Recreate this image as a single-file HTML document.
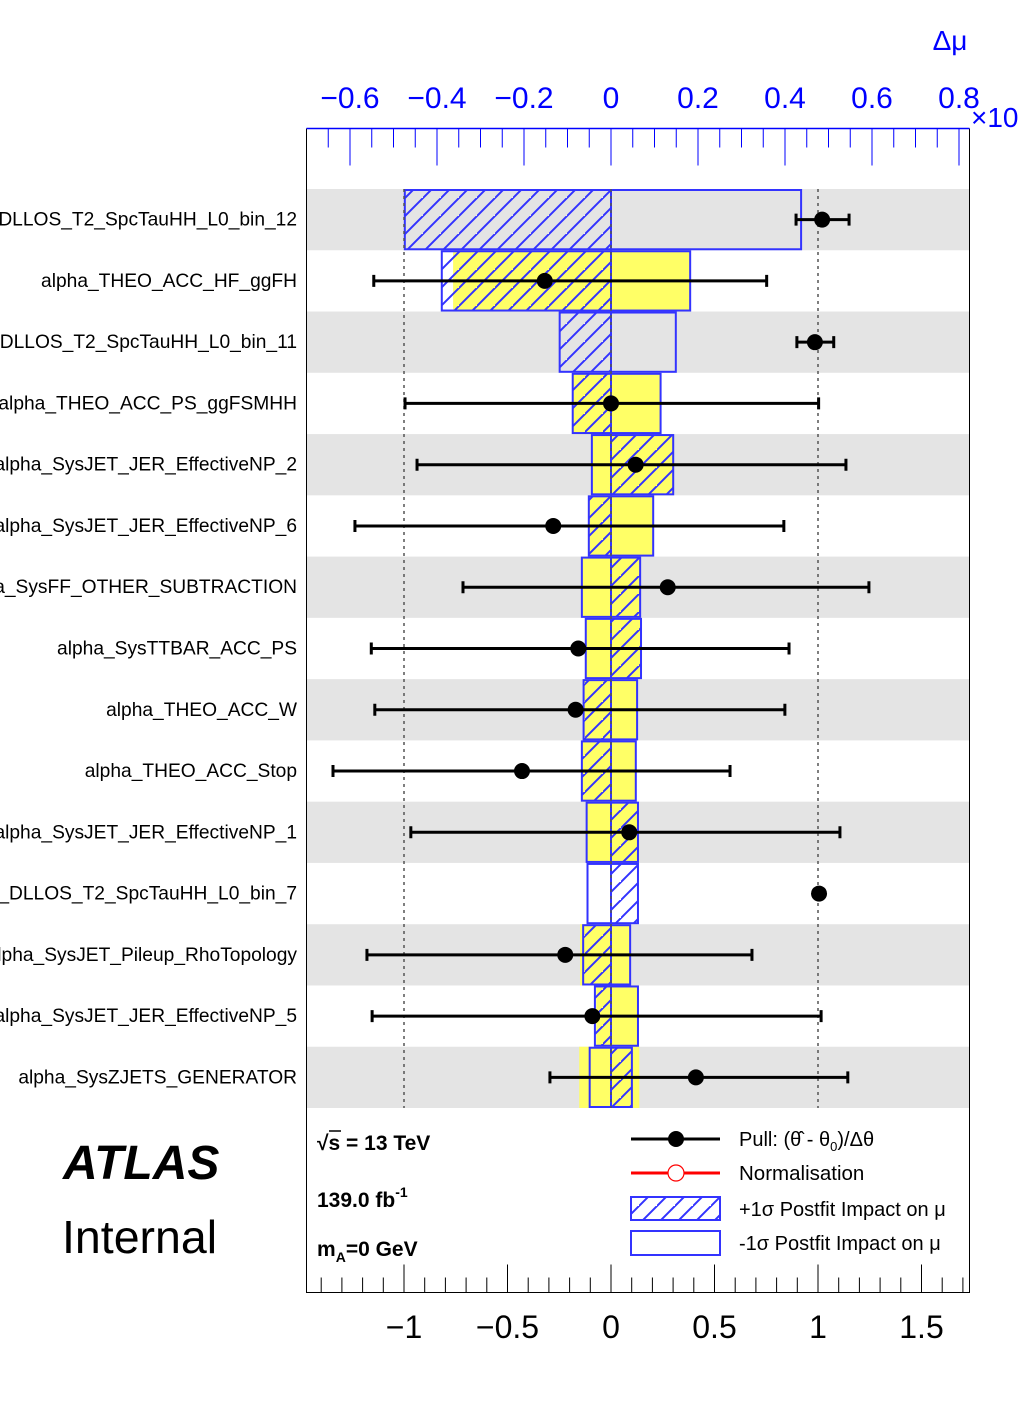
<!DOCTYPE html>
<html><head><meta charset="utf-8"><style>
html,body{margin:0;padding:0;background:#fff;}
svg{display:block;font-family:"Liberation Sans",sans-serif;}
</style></head><body>
<svg id="chart" width="1020" height="1420" viewBox="0 0 1020 1420" xmlns="http://www.w3.org/2000/svg">
<defs>
<pattern id="hatch" patternUnits="userSpaceOnUse" width="18" height="18" patternTransform="translate(405,0)">
<path d="M-2,20 L20,-2 M-20,20 L2,-2 M16,38 L38,16" stroke="#3333ff" stroke-width="2"/>
</pattern>
<clipPath id="labclip"><rect x="0" y="0" width="306" height="1420"/></clipPath>
</defs>
<g id="bg"></g>
<g id="marks"></g>
<g id="axes"></g>
<g id="labels" clip-path="url(#labclip)"></g>

<text x="950" y="50" font-size="28" fill="#0000ff" text-anchor="middle">Δμ</text>
<text x="971" y="127" font-size="28" fill="#0000ff">×10</text>

<text x="63" y="1179" font-size="48" font-weight="bold" font-style="italic">ATLAS</text>
<text x="62" y="1253" font-size="46.5">Internal</text>

<text x="317" y="1150" font-size="21" font-weight="bold">√s = 13 TeV</text>
<line x1="329" y1="1131" x2="341" y2="1131" stroke="#000" stroke-width="1.5"/>
<text x="317" y="1207" font-size="21" font-weight="bold">139.0 fb<tspan dy="-10" font-size="14">-1</tspan></text>
<text x="317" y="1256" font-size="21" font-weight="bold">m<tspan dy="6" font-size="14">A</tspan><tspan dy="-6">=0 GeV</tspan></text>

<g>
<g>
<line x1="631" y1="1139" x2="720" y2="1139" stroke="#000" stroke-width="3"/>
<circle cx="676" cy="1139" r="8" fill="#000"/>
<text x="739" y="1146" font-size="20">Pull: (θ̂ - θ<tspan dy="5" font-size="13">0</tspan><tspan dy="-5">)/Δθ</tspan></text>
</g>
<g>
<line x1="631" y1="1173" x2="720" y2="1173" stroke="#ff0000" stroke-width="3"/>
<circle cx="676" cy="1173" r="8" fill="#fff" stroke="#ff0000" stroke-width="1.2"/>
<text x="739" y="1180" font-size="20.5">Normalisation</text>
</g>
<g>
<rect x="631" y="1197" width="89" height="23" fill="url(#hatch)" stroke="#3333ff" stroke-width="2"/>
<text x="739" y="1216" font-size="20">+1σ Postfit Impact on μ</text>
</g>
<g>
<rect x="631" y="1231" width="89" height="24" fill="none" stroke="#3333ff" stroke-width="2"/>
<text x="739" y="1250" font-size="20">-1σ Postfit Impact on μ</text>
</g>
</g>
</svg>
<script>
const names = ["DLLOS_T2_SpcTauHH_L0_bin_12","alpha_THEO_ACC_HF_ggFH","_DLLOS_T2_SpcTauHH_L0_bin_11","alpha_THEO_ACC_PS_ggFSMHH","alpha_SysJET_JER_EffectiveNP_2","alpha_SysJET_JER_EffectiveNP_6","a_SysFF_OTHER_SUBTRACTION","alpha_SysTTBAR_ACC_PS","alpha_THEO_ACC_W","alpha_THEO_ACC_Stop","alpha_SysJET_JER_EffectiveNP_1","_DLLOS_T2_SpcTauHH_L0_bin_7","alpha_SysJET_Pileup_RhoTopology","alpha_SysJET_JER_EffectiveNP_5","alpha_SysZJETS_GENERATOR"];
const pulls = [1.02,-0.32,0.985,0.0,0.119,-0.279,0.274,-0.158,-0.171,-0.43,0.088,1.005,-0.221,-0.09,0.41];
const pullErrLo = [0.126,0.826,0.087,0.995,1.056,0.958,0.989,1.0,0.97,0.913,1.055,0,0.958,1.064,0.705];
const pullErrHi = [0.13,1.072,0.091,1.003,1.016,1.114,0.972,1.018,1.011,1.005,1.018,0,0.902,1.105,0.734];
const impactUp = [-0.474,-0.389,-0.118,-0.088,0.143,-0.051,0.067,0.069,-0.063,-0.067,0.062,0.062,-0.064,-0.037,0.048];
const impactDown = [0.437,0.182,0.149,0.114,-0.044,0.097,-0.067,-0.058,0.060,0.057,-0.056,-0.054,0.044,0.062,-0.049];
const prefitLo = [null,-0.363,null,-0.088,-0.044,-0.051,-0.067,-0.058,-0.063,-0.067,-0.056,null,-0.071,-0.034,-0.073];
const prefitHi = [null,0.182,null,0.114,0.143,0.097,0.067,0.069,0.060,0.057,0.062,null,0.044,0.062,0.065];
const bottomTicks = ["−1","−0.5","0","0.5","1","1.5"];
const bottomTickVals = [-1,-0.5,0,0.5,1,1.5];
const topTicks = ["−0.6","−0.4","−0.2","0","0.2","0.4","0.6","0.8"];
const topTickVals = [-0.6,-0.4,-0.2,0,0.2,0.4,0.6,0.8];

const NS="http://www.w3.org/2000/svg";
const FL=306.5, FR=969.5, FT=128.5, FB=1292.5, ROW0=189, ROWH=(1108-189)/15;
const xPull = v => 611 + v*207;
const xImp = v => 611 + v*435;
const yRow = i => ROW0 + i*ROWH;
function mk(parent, tag, attrs){const e=document.createElementNS(NS,tag);for(const k in attrs)e.setAttribute(k,attrs[k]);document.getElementById(parent).appendChild(e);return e;}

for(let i=0;i<names.length;i++){
  if(i%2===0){
    const r=mk('bg','rect',{x:FL,y:yRow(i),width:FR-FL,height:ROWH,fill:'#e4e4e4'});
    
    
  }
}
for(let i=0;i<names.length;i++){
  if(prefitLo[i]===null) continue;
  const a=xImp(prefitLo[i]), b=xImp(prefitHi[i]);
  const r=mk('marks','rect',{x:Math.min(a,b),y:yRow(i),width:Math.abs(b-a),height:ROWH,fill:'#ffff66'});
  
  
}
for(let i=0;i<names.length;i++){
  const a=xImp(impactUp[i]), z=xImp(0), b=xImp(impactDown[i]);
  const r1=mk('marks','rect',{x:Math.min(a,z),y:yRow(i)+1,width:Math.abs(z-a),height:ROWH-2,fill:'url(#hatch)',stroke:'#3333ff','stroke-width':2});
  
  
  const r2=mk('marks','rect',{x:Math.min(b,z),y:yRow(i)+1,width:Math.abs(z-b),height:ROWH-2,fill:'none',stroke:'#3333ff','stroke-width':2});
  
  
}
[-1,0,1].forEach(v=>{
  const l=mk('marks','line',{x1:xPull(v),x2:xPull(v),y1:ROW0,y2:1108,stroke:'#555','stroke-width':1.5,'stroke-dasharray':'3,4'});
  
  
});
for(let i=0;i<names.length;i++){
  const cy=yRow(i)+ROWH/2, cx=xPull(pulls[i]);
  if(pullErrLo[i]+pullErrHi[i]>0){
    const l=xPull(pulls[i]-pullErrLo[i]), r=xPull(pulls[i]+pullErrHi[i]);
    const e=mk('marks','path',{d:`M${l},${cy}H${r}M${l},${cy-6}V${cy+6}M${r},${cy-6}V${cy+6}`,stroke:'#000','stroke-width':3,fill:'none'});
    
    
  }
  const c=mk('marks','circle',{cx:cx,cy:cy,r:8,fill:'#000'});
  
  
  const t=mk('labels','text',{x:297,y:cy+6,'font-size':19.2,'text-anchor':'end'});
  t.textContent=names[i];
  
  
}
const fr=mk('axes','path',{d:`M${FL},${FT}V${FB}H${FR}V${FT}`,stroke:'#000','stroke-width':1,fill:'none'});


const tl=mk('axes','line',{x1:FL,x2:FR,y1:FT,y2:FT,stroke:'#0000ff','stroke-width':1.5});


let d='';
for(let k=-14;k<=17;k++){const v=k/10,x=xPull(v);if(x<FL||x>FR)continue;const major=(k%5===0);d+=`M${x},${FB}V${FB-(major?28:15)}`;}
const bt=mk('axes','path',{d:d,stroke:'#000','stroke-width':1});


bottomTicks.forEach((s,i)=>{
  const t=mk('axes','text',{x:xPull(bottomTickVals[i]),y:1338,'font-size':32,'text-anchor':'middle'});
  t.textContent=s;
  
  
});
d='';
for(let k=-14;k<=17;k++){const v=k*0.05,x=xImp(v);if(x<FL||x>FR)continue;const major=(k%4===0);d+=`M${x},${FT}V${FT+(major?37:19)}`;}
const tt=mk('axes','path',{d:d,stroke:'#0000ff','stroke-width':1});


topTicks.forEach((s,i)=>{
  const t=mk('axes','text',{x:xImp(topTickVals[i]),y:108,'font-size':30,'text-anchor':'middle',fill:'#0000ff'});
  t.textContent=s;
  
  
});
</script>
</body></html>
